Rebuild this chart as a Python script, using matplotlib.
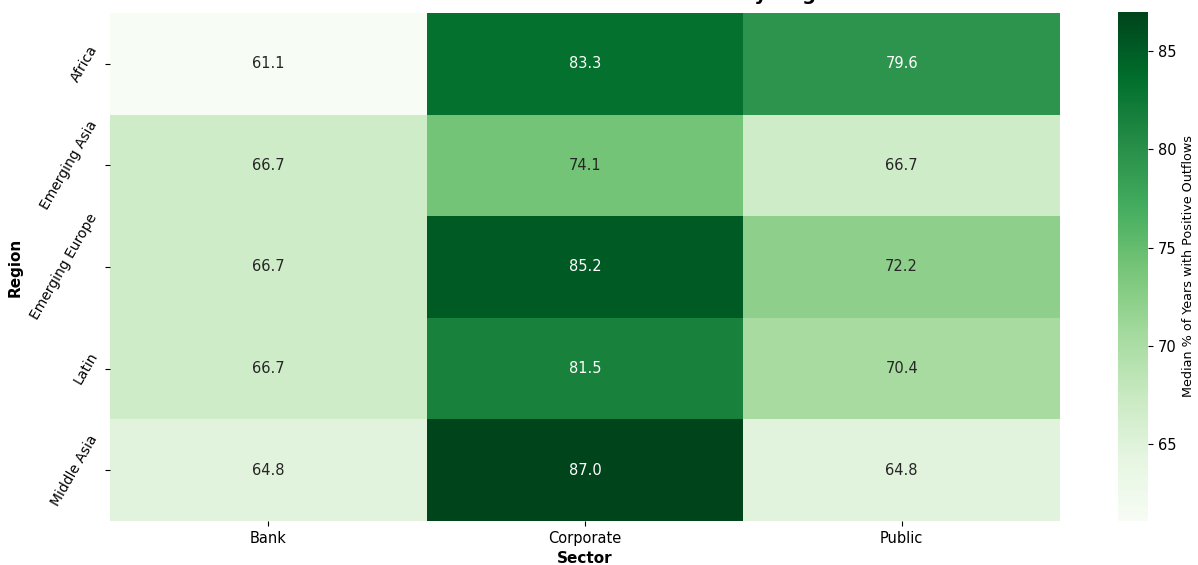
import numpy as np
import pandas as pd
import matplotlib
matplotlib.use("Agg")
import matplotlib.pyplot as plt
import seaborn as sns

# Median share of years with positive outflows, per region and sector
regions = ["Africa", "Emerging Asia", "Emerging Europe", "Latin", "Middle Asia"]
sectors = ["Bank", "Corporate", "Public"]
bank = [61.1, 66.7, 66.7, 66.7, 64.8]
corporate = [83.3, 74.1, 85.2, 81.5, 87.0]
public = [79.6, 66.7, 72.2, 70.4, 64.8]

table = pd.DataFrame({"Bank": bank, "Corporate": corporate, "Public": public},
                     index=regions)[sectors]

fig = plt.figure(figsize=(11.98, 5.65), dpi=100)
ax = fig.add_axes([0.0918, 0.078, 0.7930, 0.899])
cax = fig.add_axes([0.9332, 0.078, 0.025, 0.901])

sns.heatmap(table, annot=True, fmt=".1f", cmap="Greens", ax=ax, cbar_ax=cax,
            annot_kws={"fontsize": 10.5})

ax.set_title("Median Outflow Share Across Sectors by Region",
             fontsize=14, fontweight="bold", pad=9)
ax.set_xlabel("Sector", fontsize=11, fontweight="bold")
ax.set_ylabel("Region", fontsize=11, fontweight="bold")
ax.set_yticklabels(ax.get_yticklabels(), rotation=60, va="center")
ax.tick_params(axis="x", rotation=0, labelsize=10.5)

cax.set_ylabel("Median % of Years with Positive Outflows", fontsize=9.2)
cax.tick_params(labelsize=10.5)
cax.set_frame_on(False)

fig.savefig("out.png", dpi=100)
